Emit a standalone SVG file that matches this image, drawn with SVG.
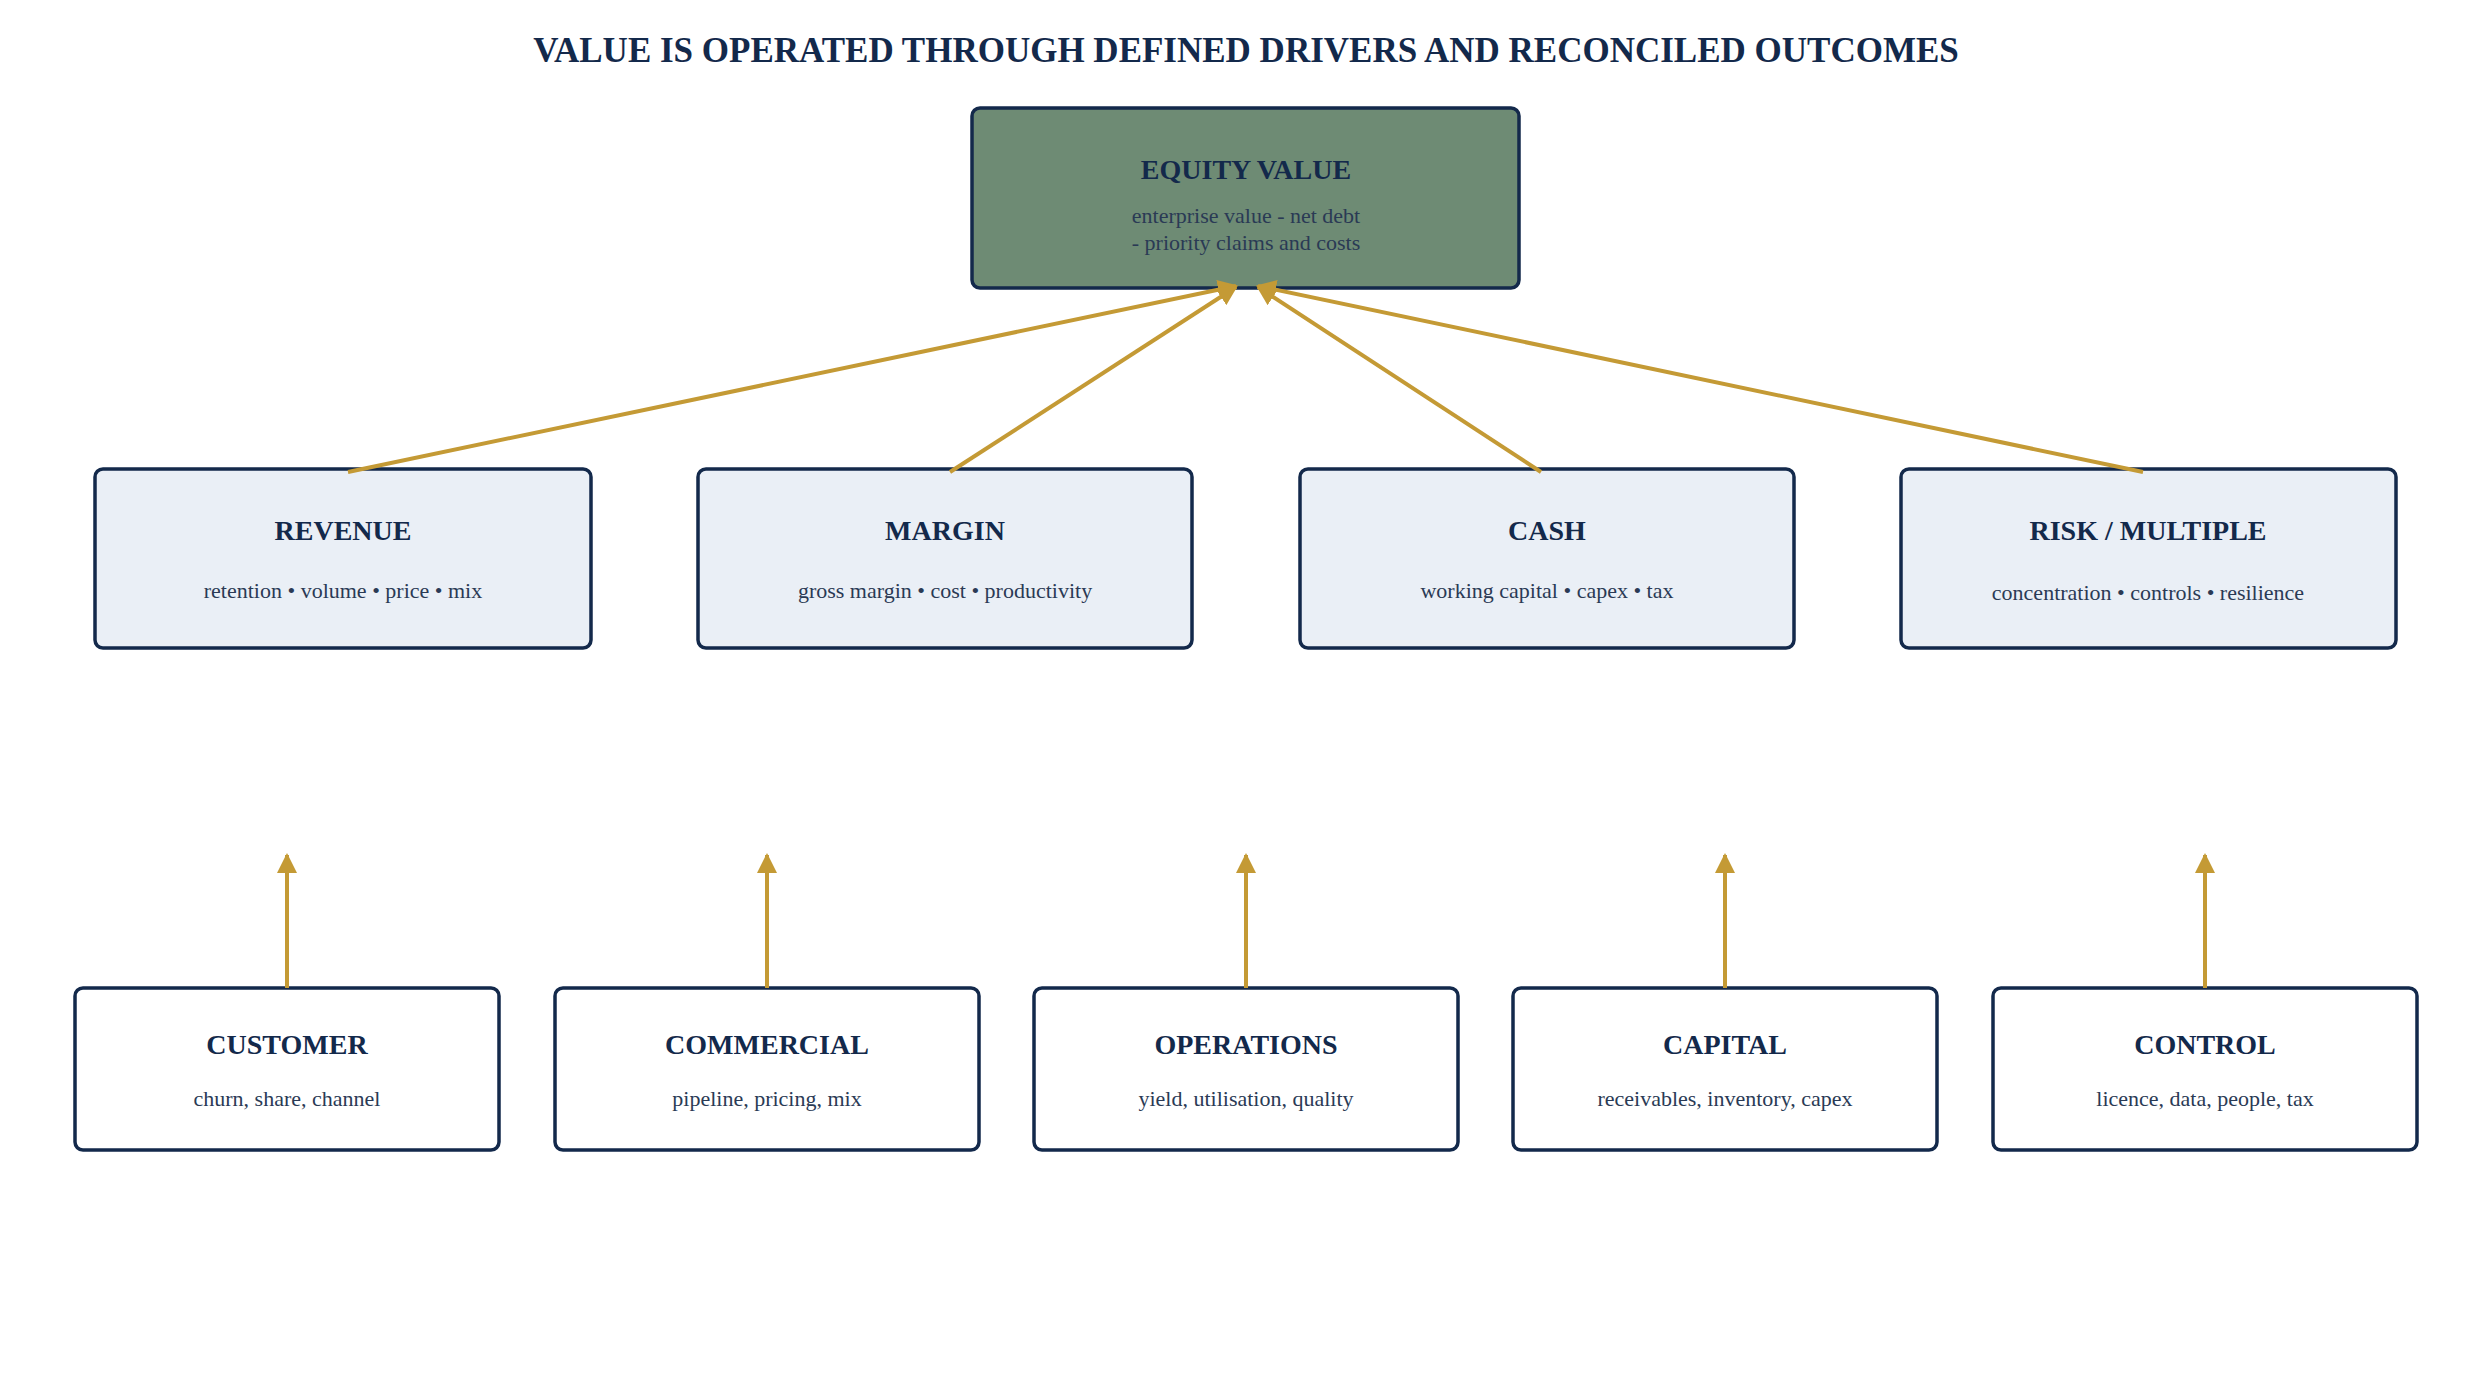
<svg xmlns="http://www.w3.org/2000/svg" width="2479" height="1379" viewBox="0 0 2479 1379">
<style>
.box{stroke:#13294b;stroke-width:3.5}
.t{font-family:"Liberation Serif",serif;font-weight:bold;fill:#13294b;text-anchor:middle;font-size:28px}
.s{font-family:"Liberation Serif",serif;fill:#2a3a55;text-anchor:middle;font-size:22px}
.c{stroke:#c49a35;stroke-width:4;fill:none;marker-end:url(#a)}
</style>
<defs><marker id="a" viewBox="0 0 10 10" refX="9" refY="5" markerWidth="5" markerHeight="5" orient="auto" markerUnits="strokeWidth"><path d="M0,0L10,5L0,10z" fill="#c49a35"/></marker></defs>
<rect width="2479" height="1379" fill="#fff"/>
<text x="1246" y="62" class="t" style="font-size:35px">VALUE IS OPERATED THROUGH DEFINED DRIVERS AND RECONCILED OUTCOMES</text>
<g id="equity"><rect x="972" y="108" width="547" height="180" rx="8" class="box" fill="#6e8b74"/><text x="1246" y="179" class="t">EQUITY VALUE</text><text x="1246" y="223" class="s">enterprise value - net debt</text><text x="1246" y="250" class="s">- priority claims and costs</text></g>
<g id="revenue"><rect x="95" y="469" width="496" height="179" rx="8" class="box" fill="#eaeff6"/><text x="343" y="540" class="t">REVENUE</text><text x="343" y="598" class="s">retention • volume • price • mix</text></g>
<g id="margin"><rect x="698" y="469" width="494" height="179" rx="8" class="box" fill="#eaeff6"/><text x="945" y="540" class="t">MARGIN</text><text x="945" y="598" class="s">gross margin • cost • productivity</text></g>
<g id="cash"><rect x="1300" y="469" width="494" height="179" rx="8" class="box" fill="#eaeff6"/><text x="1547" y="540" class="t">CASH</text><text x="1547" y="598" class="s">working capital • capex • tax</text></g>
<g id="risk"><rect x="1901" y="469" width="495" height="179" rx="8" class="box" fill="#eaeff6"/><text x="2148" y="540" class="t">RISK / MULTIPLE</text><text x="2148" y="600" class="s">concentration • controls • resilience</text></g>
<g id="customer"><rect x="75" y="988" width="424" height="162" rx="8" class="box" fill="#fff"/><text x="287" y="1054" class="t">CUSTOMER</text><text x="287" y="1106" class="s">churn, share, channel</text></g>
<g id="commercial"><rect x="555" y="988" width="424" height="162" rx="8" class="box" fill="#fff"/><text x="767" y="1054" class="t">COMMERCIAL</text><text x="767" y="1106" class="s">pipeline, pricing, mix</text></g>
<g id="operations"><rect x="1034" y="988" width="424" height="162" rx="8" class="box" fill="#fff"/><text x="1246" y="1054" class="t">OPERATIONS</text><text x="1246" y="1106" class="s">yield, utilisation, quality</text></g>
<g id="capital"><rect x="1513" y="988" width="424" height="162" rx="8" class="box" fill="#fff"/><text x="1725" y="1054" class="t">CAPITAL</text><text x="1725" y="1106" class="s">receivables, inventory, capex</text></g>
<g id="control"><rect x="1993" y="988" width="424" height="162" rx="8" class="box" fill="#fff"/><text x="2205" y="1054" class="t">CONTROL</text><text x="2205" y="1106" class="s">licence, data, people, tax</text></g>
<g id="connectors">
<path class="c" d="M348,472L1236,286"/>
<path class="c" d="M950,472L1236,287"/>
<path class="c" d="M1541,472L1258,287"/>
<path class="c" d="M2143,472L1258,286"/>
<path class="c" d="M287,988V855"/>
<path class="c" d="M767,988V855"/>
<path class="c" d="M1246,988V855"/>
<path class="c" d="M1725,988V855"/>
<path class="c" d="M2205,988V855"/>
</g>
</svg>
